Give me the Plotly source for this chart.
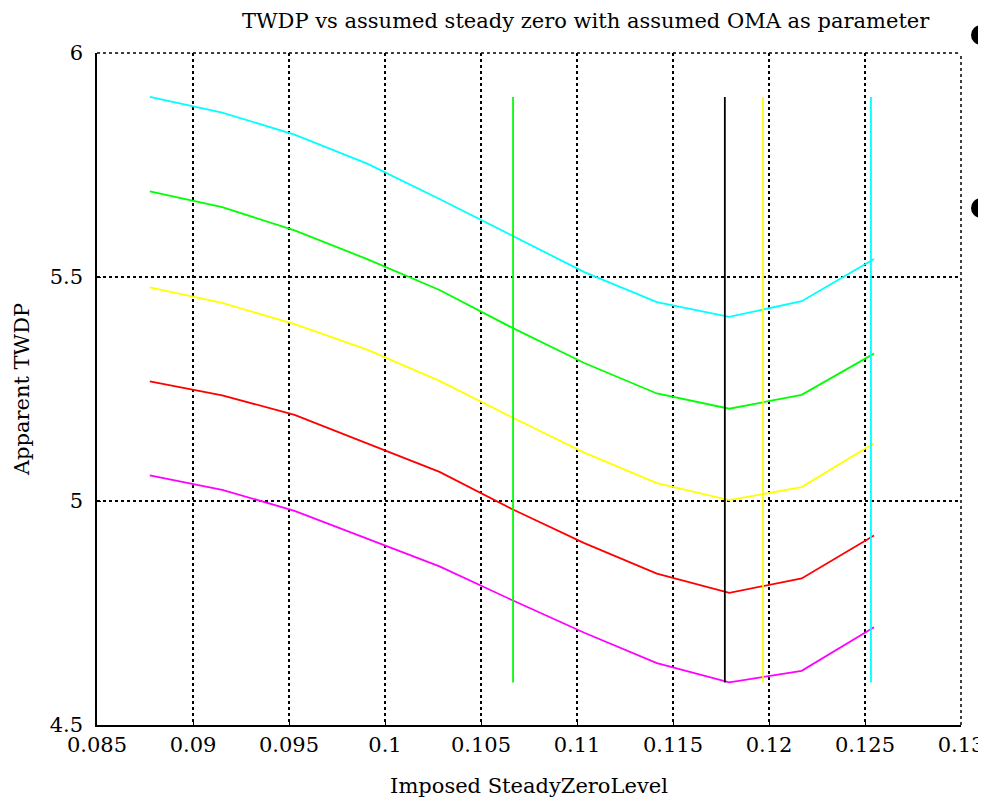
import plotly.graph_objects as go

x_level = [0.08775, 0.09152, 0.09529, 0.09907, 0.10284, 0.10661, 0.11038, 0.11416, 0.11793, 0.12170, 0.12547]

twdp_cyan = [5.902, 5.867, 5.818, 5.753, 5.674, 5.593, 5.511, 5.444, 5.411, 5.446, 5.540]
twdp_green = [5.691, 5.656, 5.604, 5.540, 5.471, 5.387, 5.308, 5.240, 5.206, 5.237, 5.329]
twdp_yellow = [5.477, 5.442, 5.395, 5.338, 5.268, 5.187, 5.108, 5.040, 5.002, 5.031, 5.129]
twdp_red = [5.267, 5.236, 5.192, 5.128, 5.065, 4.982, 4.906, 4.838, 4.795, 4.827, 4.923]
twdp_magenta = [5.057, 5.025, 4.978, 4.916, 4.854, 4.779, 4.706, 4.638, 4.595, 4.621, 4.718]

marker_x = [0.10667, 0.1177, 0.11969, 0.12531]
marker_colors = ["#00FF00", "#000000", "#FFFF00", "#00FFFF"]

x_ticks = [0.085, 0.09, 0.095, 0.1, 0.105, 0.11, 0.115, 0.12, 0.125, 0.13]
x_ticklabels = ["0.085", "0.09", "0.095", "0.1", "0.105", "0.11", "0.115", "0.12", "0.125", "0.13"]
y_ticks = [4.5, 5, 5.5, 6]
y_ticklabels = ["4.5", "5", "5.5", "6"]

series = [
    (twdp_cyan, "#00FFFF"),
    (twdp_green, "#00FF00"),
    (twdp_yellow, "#FFFF00"),
    (twdp_red, "#FF0000"),
    (twdp_magenta, "#FF00FF"),
]

all_vals = twdp_cyan + twdp_green + twdp_yellow + twdp_red + twdp_magenta
ymin, ymax = min(all_vals), max(all_vals)

FONT = "DejaVu Serif"
FS = 21

fig = go.Figure()
for vals, col in series:
    fig.add_trace(go.Scatter(x=x_level, y=vals, mode="lines",
                             line=dict(color=col, width=1.8), showlegend=False,
                             hoverinfo="skip"))
for mx, col in zip(marker_x, marker_colors):
    fig.add_trace(go.Scatter(x=[mx, mx], y=[ymin, ymax], mode="lines",
                             line=dict(color=col, width=1.8), showlegend=False,
                             hoverinfo="skip"))

fig.update_layout(
    width=986, height=801,
    margin=dict(l=89, r=33, t=45, b=84, autoexpand=False),
    plot_bgcolor="white", paper_bgcolor="white",
    font=dict(family=FONT, size=FS, color="black"),
    xaxis=dict(range=[0.085, 0.13], tickvals=x_ticks, ticktext=x_ticklabels,
               automargin=False,
               showgrid=True, gridcolor="black", griddash="dot", gridwidth=1.5,
               showline=True, linecolor="black", linewidth=1.5,
               ticks="inside", ticklen=4, tickcolor="black",
               tickfont=dict(family=FONT, size=FS),
               zeroline=False, title=dict(text="Imposed SteadyZeroLevel", standoff=22,
                                          font=dict(family=FONT, size=FS))),
    yaxis=dict(range=[4.5, 6], tickvals=y_ticks, ticktext=y_ticklabels,
               automargin=False,
               showgrid=True, gridcolor="black", griddash="dot", gridwidth=1.5,
               showline=True, linecolor="black", linewidth=1.5,
               ticks="inside", ticklen=4, tickcolor="black",
               ticklabelstandoff=8,
               tickfont=dict(family=FONT, size=FS),
               zeroline=False, title=dict(text="Apparent TWDP", standoff=14,
                                          font=dict(family=FONT, size=FS))),
    annotations=[dict(text="TWDP vs assumed steady zero with assumed OMA as parameter",
                      xref="paper", yref="paper", x=0.566, y=1.0, yshift=32,
                      xanchor="center", yanchor="middle", showarrow=False,
                      font=dict(family=FONT, size=FS, color="black"))],
    shapes=[
        dict(type="line", xref="paper", yref="paper", x0=0, x1=1, y0=1, y1=1,
             line=dict(color="black", width=1.5, dash="dot"), layer="below"),
        dict(type="line", xref="paper", yref="paper", x0=1, x1=1, y0=0, y1=1,
             line=dict(color="black", width=1.5, dash="dot"), layer="below"),
        dict(type="circle", xref="paper", yref="paper", xsizemode="pixel", ysizemode="pixel",
             xanchor=1.0, yanchor=1.0, x0=10, x1=30, y0=8, y1=28,
             fillcolor="black", line=dict(color="black", width=0)),
        dict(type="circle", xref="paper", yref="paper", xsizemode="pixel", ysizemode="pixel",
             xanchor=1.0, yanchor=0.7693, x0=10, x1=30, y0=-10, y1=10,
             fillcolor="black", line=dict(color="black", width=0)),
    ],
)

fig.write_html("out.html")
